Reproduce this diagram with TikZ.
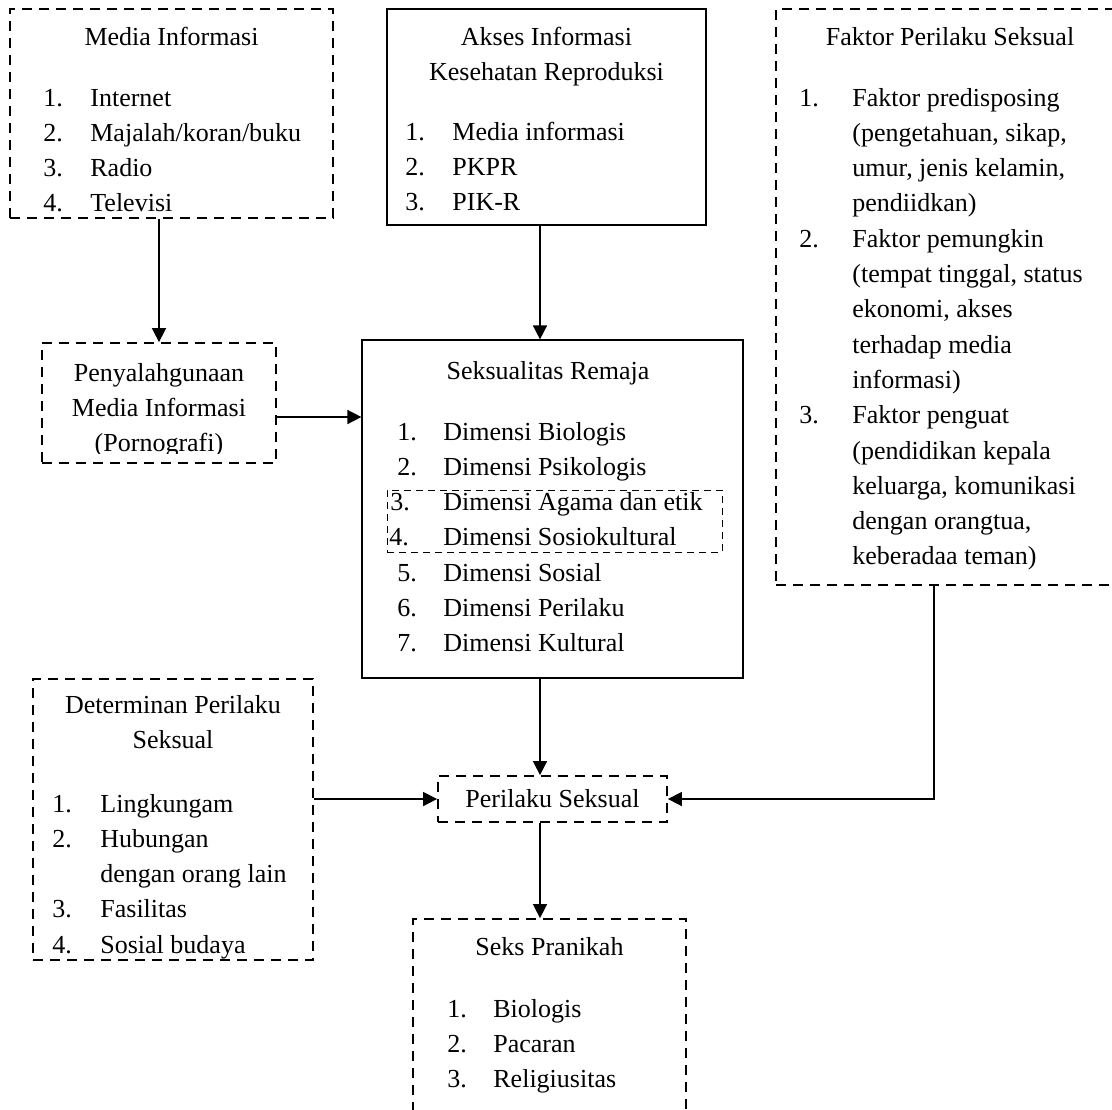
\documentclass[tikz,border=0pt]{standalone}
\usepackage{fontspec}
\setmainfont{Liberation Serif}
\usetikzlibrary{arrows.meta}
\newcommand\fs{\fontsize{13}{17.65}\selectfont}
\setlength\tabcolsep{0pt}
\begin{document}
\begin{tikzpicture}[x=0.5pt,y=-0.5pt,
  dbox/.style={draw, dash pattern=on 5pt off 3.5pt, line width=0.9pt, inner sep=0pt},
  dboxthin/.style={draw, dash pattern=on 3.5pt off 2.5pt, line width=0.5pt, inner sep=0pt},
  sbox/.style={draw, line width=0.6pt, inner sep=0pt},
  arr/.style={-{Triangle[length=7pt,width=7pt]}, line width=0.8pt},
  txt/.style={inner sep=0pt, font=\fs},
  ttl/.style={txt, anchor=base},
  lst/.style={txt, anchor=base west}]
\useasboundingbox[fill=white] (0,0) rectangle (1112,1109);

% boxes
\node[dbox, minimum width=161.5pt, minimum height=104.5pt] (media) at (171.5,113.5) {};
\node[sbox, minimum width=159.5pt, minimum height=108pt] (akses) at (546.5,117) {};
\node[dbox, minimum width=174.5pt, minimum height=288pt] (faktor) at (950.5,297) {};
\node[dbox, minimum width=117pt, minimum height=60pt] (penya) at (159,403) {};
\node[sbox, minimum width=190.5pt, minimum height=169pt] (seks) at (552.5,509) {};
\node[dboxthin, minimum width=167.5pt, minimum height=31pt] (inner) at (554.5,521) {};
\node[dbox, minimum width=114.5pt, minimum height=23pt, font=\fs] (perilaku) at (552.5,799) {Perilaku Seksual};
\node[dbox, minimum width=136.5pt, minimum height=103pt] (pranikah) at (549.5,1022) {};
\node[dbox, minimum width=140pt, minimum height=140.5pt] (determ) at (173,819.5) {};

% texts
\node[ttl] (mediaT) at (171.5,45) {Media Informasi};
\node[lst] (mediaL) at (43,106) {\begin{tabular}[t]{@{}p{23.5pt}l@{}}1.&Internet\\2.&Majalah/koran/buku\\3.&Radio\\4.&Televisi\end{tabular}};

\node[ttl] (aksesT) at (546.5,45) {\begin{tabular}[t]{@{}c@{}}Akses Informasi\\Kesehatan Reproduksi\end{tabular}};
\node[lst] (aksesL) at (405,140) {\begin{tabular}[t]{@{}p{23.5pt}l@{}}1.&Media informasi\\2.&PKPR\\3.&PIK-R\end{tabular}};

\node[ttl] (faktorT) at (950,45) {Faktor Perilaku Seksual};
\node[lst] (faktorL) at (799,106) {\begin{tabular}[t]{@{}p{26.5pt}l@{}}1.&Faktor predisposing\\&(pengetahuan, sikap,\\&umur, jenis kelamin,\\&pendiidkan)\\2.&Faktor pemungkin\\&(tempat tinggal, status\\&ekonomi, akses\\&terhadap media\\&informasi)\\3.&Faktor penguat\\&(pendidikan kepala\\&keluarga, komunikasi\\&dengan orangtua,\\&keberadaa teman)\end{tabular}};

\begin{scope}
\clip (penya.north west) rectangle ([yshift=5pt]penya.south east);
\node[ttl] (penyaT) at (159,381) {\begin{tabular}[t]{@{}c@{}}Penyalahgunaan\\Media Informasi\\(Pornografi)\end{tabular}};
\end{scope}

\node[ttl] (seksT) at (548,379) {Seksualitas Remaja};
\node[lst] (seksL) at (397,440) {\begin{tabular}[t]{@{}p{23pt}l@{}}1.&Dimensi Biologis\\2.&Dimensi Psikologis\\\hspace*{-3.5pt}3.&Dimensi Agama dan etik\\\hspace*{-4pt}4.&Dimensi Sosiokultural\\5.&Dimensi Sosial\\6.&Dimensi Perilaku\\7.&Dimensi Kultural\end{tabular}};

\node[ttl] (determT) at (173,713) {\begin{tabular}[t]{@{}c@{}}Determinan Perilaku\\Seksual\end{tabular}};
\node[lst] (determL) at (52,812) {\begin{tabular}[t]{@{}p{24pt}l@{}}1.&Lingkungam\\2.&Hubungan\\&dengan orang lain\\3.&Fasilitas\\4.&Sosial budaya\end{tabular}};

\node[ttl] (pranikahT) at (549.5,955) {Seks Pranikah};
\node[lst] (pranikahL) at (447,1017) {\begin{tabular}[t]{@{}p{23pt}l@{}}1.&Biologis\\2.&Pacaran\\3.&Religiusitas\end{tabular}};

% connectors
\coordinate (col) at (540,0);
\draw[arr] (media.south -| penya.north) -- (penya.north);
\draw[arr] ([yshift=-7pt]penya.east) -- ([yshift=-7pt]penya.east -| seks.west);
\draw[arr] (akses.south -| col) -- (seks.north -| col);
\draw[arr] (seks.south -| col) -- (perilaku.north -| col);
\draw[arr] (perilaku.south -| col) -- (pranikah.north -| col);
\draw[arr] (determ.east |- perilaku.west) -- (perilaku.west);
\draw[arr] ([xshift=79.5pt]faktor.south west) |- (perilaku.east);
\end{tikzpicture}
\end{document}
